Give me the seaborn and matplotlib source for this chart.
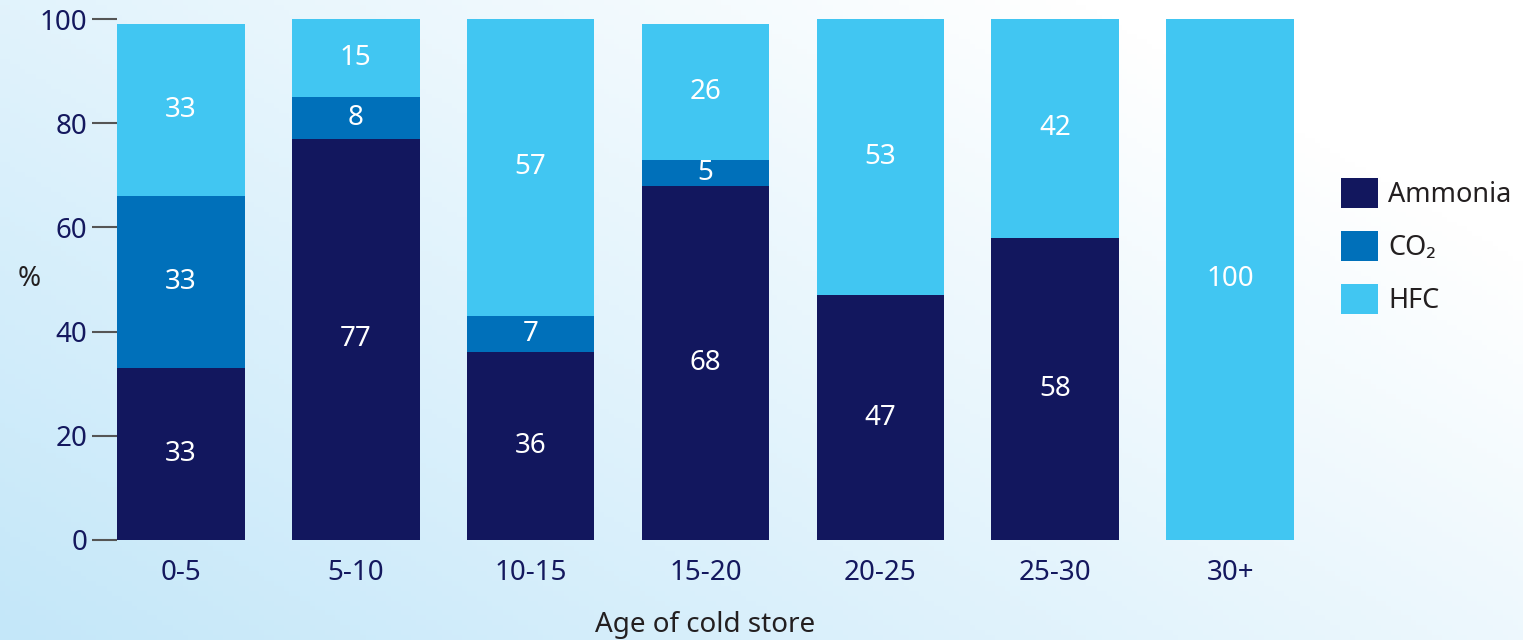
import numpy as np
import pandas as pd
import matplotlib
matplotlib.use("Agg")
import matplotlib.pyplot as plt
from matplotlib.patches import Patch
from matplotlib.colors import LinearSegmentedColormap
import seaborn as sns

ages = ["0-5", "5-10", "10-15", "15-20", "20-25", "25-30", "30+"]
ammonia = [33, 77, 36, 68, 47, 58, 0]
co2 = [33, 8, 7, 5, 0, 0, 0]
hfc = [33, 15, 57, 26, 53, 42, 100]
series_names = ["Ammonia", "CO\u2082", "HFC"]
colors = ["#12175E", "#0070BA", "#41C6F2"]

sns.set_theme(style="white")
plt.rcParams["font.family"] = ["Noto Sans", "DejaVu Sans"]

W, H = 1523, 640
fig = plt.figure(figsize=(W / 100, H / 100), dpi=100)

# background gradient, light blue bottom-left to white top-right
bg = fig.add_axes([0, 0, 1, 1], zorder=-10)
xx, yy = np.meshgrid(np.linspace(0, 1, 300), np.linspace(0, 1, 130))
t = np.clip(xx * 0.7 + yy * 0.5, 0, 1)
cmap = LinearSegmentedColormap.from_list("bg", ["#C4E7F9", "#FFFFFF"])
bg.imshow(t, cmap=cmap, origin="lower", aspect="auto", extent=[0, 1, 0, 1], vmin=0, vmax=1)
bg.axis("off")

ax = fig.add_axes([117 / W, 100 / H, (1294 - 117) / W, 521 / H])
ax.patch.set_alpha(0)

df = pd.DataFrame({"age": ages, "Ammonia": ammonia, "CO2": co2, "HFC": hfc})
bottom = np.zeros(len(ages))
for col, name, c in zip(["Ammonia", "CO2", "HFC"], series_names, colors):
    sns.barplot(data=df, x="age", y=col, bottom=bottom, color=c, width=0.73,
                saturation=1, ax=ax, linewidth=0)
    cont = ax.containers[-1]
    labels = [str(v) if v > 0 else "" for v in df[col]]
    ax.bar_label(cont, labels=labels, label_type="center", color="white", fontsize=20)
    bottom = bottom + df[col].values

ax.set_xlim(-0.365, 6.365)
ax.set_ylim(0, 100)
ax.set_yticks([0, 20, 40, 60, 80, 100])
for s in ax.spines.values():
    s.set_visible(False)
ax.tick_params(axis="y", left=True, length=18, width=1.5, color="#555555",
               labelsize=20, labelcolor="#14185E", pad=3.5)
ax.tick_params(axis="x", bottom=False, labelsize=20, labelcolor="#14185E", pad=8)
ax.set_xlabel("Age of cold store", fontsize=20, color="#231F20", va="center")
ax.xaxis.set_label_coords(0.5, -85 / 521)
ax.set_ylabel("%", fontsize=20, color="#231F20", rotation=0, va="center")
ax.yaxis.set_label_coords(-88 / 1177, 0.5)

handles = [Patch(facecolor=c, edgecolor="none") for c in colors]
fig.legend(handles, series_names, loc="upper left", bbox_to_anchor=(1341 / W, 1 - 178 / H),
           frameon=False, fontsize=19.5, handlelength=1.35, handleheight=1.35,
           labelspacing=0.8, handletextpad=0.4, borderpad=0, borderaxespad=0,
           labelcolor="#231F20")

fig.savefig("out.png", dpi=100)
